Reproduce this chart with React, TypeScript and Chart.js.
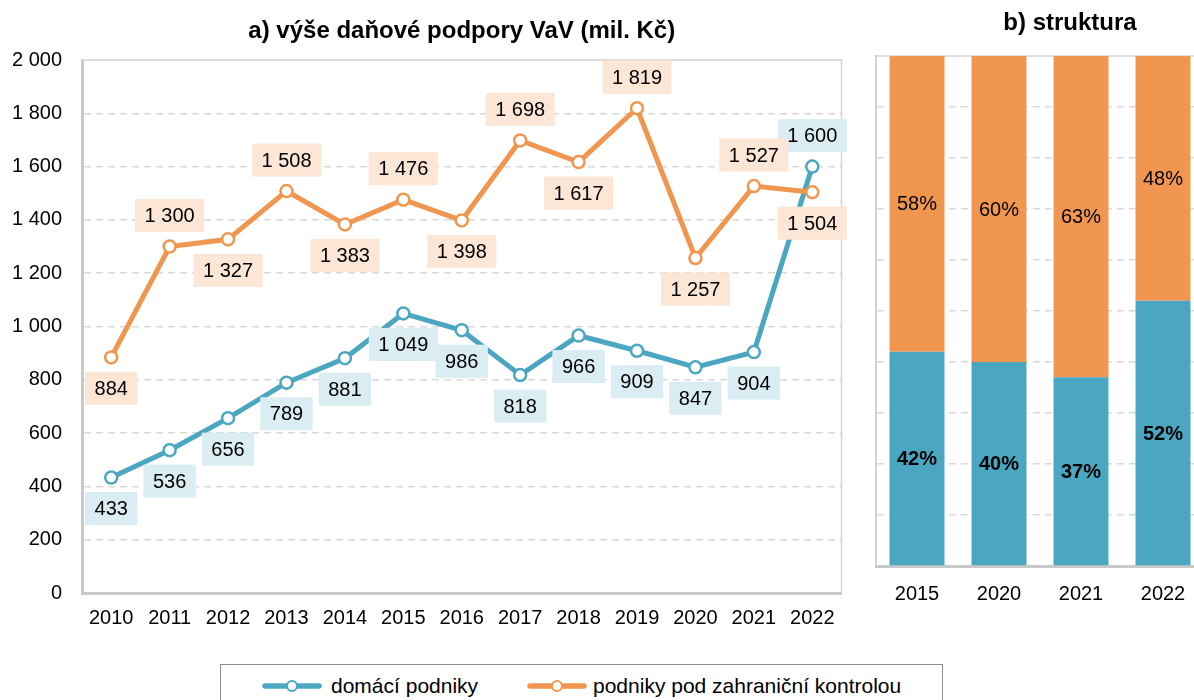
import React, { useEffect, useRef } from 'react';
import { Chart, registerables } from 'chart.js';

Chart.register(...registerables);

const FONT = 'Arial, "Liberation Sans", sans-serif';

const years = ['2010', '2011', '2012', '2013', '2014', '2015', '2016', '2017', '2018', '2019', '2020', '2021', '2022'];
const domestic = [433, 536, 656, 789, 881, 1049, 986, 818, 966, 909, 847, 904, 1600];
const foreign = [884, 1300, 1327, 1508, 1383, 1476, 1398, 1698, 1617, 1819, 1257, 1527, 1504];
const domesticLabelPlace = ['below', 'below', 'below', 'below', 'below', 'below', 'below', 'below', 'below', 'below', 'below', 'below', 'above'];
const foreignLabelPlace = ['below', 'above', 'below', 'above', 'below', 'above', 'below', 'above', 'below', 'above', 'below', 'above', 'below'];

const structYears = ['2015', '2020', '2021', '2022'];
const structDomestic = [42, 40, 37, 52];
const structForeign = [58, 60, 63, 48];

const seriesNames = ['domácí podniky', 'podniky pod zahraniční kontrolou'];
const titleA = 'a) výše daňové podpory VaV (mil. Kč)';
const titleB = 'b) struktura';

const BLUE = '#4ba6c1';
const ORANGE = '#f0964f';
const BLUE_BG = '#daedf3';
const ORANGE_BG = '#fce6d6';
const GRID = '#d9d9d9';
const AXIS = '#c9c9c9';

function fmt(n: number): string {
  if (n >= 1000) {
    return Math.floor(n / 1000) + ' ' + String(n % 1000).padStart(3, '0');
  }
  return String(n);
}

const frameBorderPlugin = {
  id: 'frameBorder',
  beforeDatasetsDraw(chart: any) {
    const { ctx, chartArea } = chart;
    ctx.save();
    ctx.strokeStyle = '#d3d3d3';
    ctx.lineWidth = 1.5;
    ctx.beginPath();
    ctx.moveTo(chartArea.left, chartArea.top);
    ctx.lineTo(chartArea.right, chartArea.top);
    ctx.lineTo(chartArea.right, chartArea.bottom);
    ctx.stroke();
    ctx.restore();
  },
};

const pointLabelPlugin = {
  id: 'pointLabels',
  afterDatasetsDraw(chart: any) {
    const { ctx } = chart;
    ctx.save();
    ctx.font = '20px ' + FONT;
    ctx.textAlign = 'center';
    ctx.textBaseline = 'middle';
    chart.data.datasets.forEach((ds: any, i: number) => {
      const meta = chart.getDatasetMeta(i);
      meta.data.forEach((pt: any, j: number) => {
        const text = fmt(ds.data[j]);
        const w = ctx.measureText(text).width + 19;
        const h = 33;
        const cy = pt.y + (ds.labelPlace[j] === 'above' ? -31 : 31);
        ctx.fillStyle = ds.labelBg;
        ctx.fillRect(pt.x - w / 2, cy - h / 2, w, h);
        ctx.fillStyle = '#000';
        ctx.fillText(text, pt.x, cy + 1);
      });
    });
    ctx.restore();
  },
};

const barLabelPlugin = {
  id: 'barLabels',
  afterDatasetsDraw(chart: any) {
    const { ctx } = chart;
    ctx.save();
    ctx.textAlign = 'center';
    ctx.textBaseline = 'middle';
    chart.data.datasets.forEach((ds: any, i: number) => {
      const meta = chart.getDatasetMeta(i);
      ctx.font = (ds.labelBold ? 'bold ' : '') + '20px ' + FONT;
      meta.data.forEach((bar: any, j: number) => {
        const cy = (bar.y + bar.base) / 2;
        ctx.fillStyle = '#000';
        ctx.fillText(ds.data[j] + '%', bar.x, cy + 1);
      });
    });
    ctx.restore();
  },
};

// title of panel b, centred over the visible part of the panel
const panelTitlePlugin = {
  id: 'panelTitle',
  afterDraw(chart: any) {
    const { ctx } = chart;
    ctx.save();
    ctx.font = 'bold 24px ' + FONT;
    ctx.textAlign = 'center';
    ctx.textBaseline = 'middle';
    ctx.fillStyle = '#000';
    ctx.fillText(titleB, 220, 23);
    ctx.restore();
  },
};

function LineChart() {
  const ref = useRef<HTMLCanvasElement>(null);
  useEffect(() => {
    if (!ref.current) return;
    const chart = new Chart(ref.current, {
      type: 'line',
      data: {
        labels: years,
        datasets: [
          {
            label: seriesNames[0],
            data: domestic,
            borderColor: BLUE,
            backgroundColor: BLUE,
            borderWidth: 5,
            pointRadius: 6,
            pointBorderWidth: 2.5,
            pointBackgroundColor: '#ffffff',
            pointBorderColor: BLUE,
            tension: 0,
            order: 1,
            labelPlace: domesticLabelPlace,
            labelBg: BLUE_BG,
          } as any,
          {
            label: seriesNames[1],
            data: foreign,
            borderColor: ORANGE,
            backgroundColor: ORANGE,
            borderWidth: 5,
            pointRadius: 6,
            pointBorderWidth: 2.5,
            pointBackgroundColor: '#ffffff',
            pointBorderColor: ORANGE,
            tension: 0,
            order: 0,
            labelPlace: foreignLabelPlace,
            labelBg: ORANGE_BG,
          } as any,
        ],
      },
      options: {
        responsive: false,
        animation: false,
        layout: { padding: { left: 0, right: 7, top: 0, bottom: 0 } },
        plugins: {
          legend: { display: false },
          tooltip: { enabled: false },
          title: {
            display: true,
            text: titleA,
            fullSize: false,
            color: '#000',
            font: { family: FONT, size: 24, weight: 'bold' },
            padding: { top: 17, bottom: 14.2 },
          },
        },
        scales: {
          x: {
            type: 'category',
            offset: true,
            grid: { display: false, drawTicks: false },
            border: { display: true, color: AXIS, width: 3 },
            ticks: { color: '#000', font: { family: FONT, size: 20 }, padding: 13, maxRotation: 0, autoSkip: false },
            afterFit: (s: any) => { s.height = 47; },
          },
          y: {
            min: 0,
            max: 2000,
            ticks: { stepSize: 200, color: '#000', font: { family: FONT, size: 20 }, padding: 20, callback: (v: any) => fmt(Number(v)) },
            grid: {
              drawTicks: false,
              lineWidth: 1.5,
              color: (c: any) => (c.tick && (c.tick.value === 0 || c.tick.value === 2000) ? 'rgba(0,0,0,0)' : GRID),
            },
            border: { display: true, color: AXIS, width: 3, dash: [7, 5] },
            afterFit: (s: any) => { s.width = 82; },
          },
        },
      },
      plugins: [frameBorderPlugin, pointLabelPlugin],
    } as any);
    return () => chart.destroy();
  }, []);
  return <canvas ref={ref} width={850} height={640} style={{ display: 'block', position: 'absolute', left: 0, top: 0 }} />;
}

function BarChart() {
  const ref = useRef<HTMLCanvasElement>(null);
  useEffect(() => {
    if (!ref.current) return;
    const chart = new Chart(ref.current, {
      type: 'bar',
      data: {
        labels: structYears,
        datasets: [
          {
            label: seriesNames[0],
            data: structDomestic,
            backgroundColor: BLUE,
            barPercentage: 0.67,
            categoryPercentage: 1,
            labelBold: true,
          } as any,
          {
            label: seriesNames[1],
            data: structForeign,
            backgroundColor: ORANGE,
            barPercentage: 0.67,
            categoryPercentage: 1,
            labelBold: false,
          } as any,
        ],
      },
      options: {
        responsive: false,
        animation: false,
        layout: { padding: { left: 0, right: 86, top: 56, bottom: 0 } },
        plugins: {
          legend: { display: false },
          tooltip: { enabled: false },
          title: { display: false },
        },
        scales: {
          x: {
            stacked: true,
            grid: { display: false, drawTicks: false },
            border: { display: true, color: AXIS, width: 3 },
            ticks: { color: '#000', font: { family: FONT, size: 20 }, padding: 16, maxRotation: 0 },
            afterFit: (s: any) => { s.height = 74; },
          },
          y: {
            stacked: true,
            min: 0,
            max: 100,
            ticks: { display: false, stepSize: 10 },
            grid: {
              drawTicks: false,
              lineWidth: 1.5,
              color: (c: any) => (c.tick && (c.tick.value === 0 || c.tick.value === 100) ? 'rgba(0,0,0,0)' : GRID),
            },
            border: { display: true, color: '#d3d3d3', width: 2, dash: [7, 5] },
            afterFit: (s: any) => { s.width = 26; },
          },
        },
      },
      plugins: [frameBorderPlugin, barLabelPlugin, panelTitlePlugin],
    } as any);
    return () => chart.destroy();
  }, []);
  return <canvas ref={ref} width={440} height={640} style={{ display: 'block', position: 'absolute', left: 850, top: 0 }} />;
}

function LegendMarker({ color }: { color: string }) {
  return (
    <svg width={60} height={16} style={{ display: 'block' }}>
      <line x1={3} y1={8} x2={57} y2={8} stroke={color} strokeWidth={5.5} strokeLinecap="round" />
      <circle cx={30} cy={8} r={5} fill="#fff" stroke={color} strokeWidth={2} />
    </svg>
  );
}

function Legend() {
  const textStyle: React.CSSProperties = { position: 'absolute', top: 8, fontFamily: FONT, fontSize: 21, lineHeight: '25px', color: '#000', whiteSpace: 'nowrap' };
  return (
    <div style={{ position: 'absolute', left: 220, top: 664, width: 723, height: 60, border: '1.5px solid #8f8f8f', boxSizing: 'border-box', background: '#fff' }}>
      <div style={{ position: 'absolute', left: 41, top: 13 }}><LegendMarker color={BLUE} /></div>
      <div style={{ ...textStyle, left: 110 }}>{seriesNames[0]}</div>
      <div style={{ position: 'absolute', left: 306, top: 13 }}><LegendMarker color={ORANGE} /></div>
      <div style={{ ...textStyle, left: 372 }}>{seriesNames[1]}</div>
    </div>
  );
}

export default function App() {
  return (
    <div style={{ position: 'fixed', left: 0, top: 0, width: 1194, height: 700, overflow: 'hidden', background: '#fff' }}>
      <LineChart />
      <BarChart />
      <Legend />
    </div>
  );
}
